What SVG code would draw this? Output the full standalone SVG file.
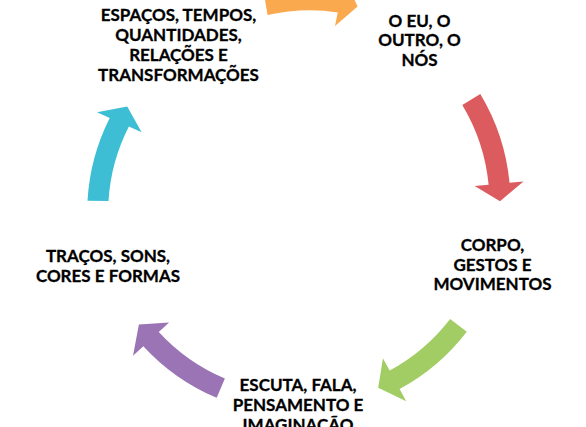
<svg xmlns="http://www.w3.org/2000/svg" width="586" height="427" viewBox="0 0 586 427">
<style>
text{font-family:Lato,"Open Sans","Liberation Sans",sans-serif;font-weight:700;font-size:17px;fill:#000;stroke:#000;stroke-width:0.3;text-anchor:middle}
</style>
<rect width="586" height="427" fill="#fff"/>
<g id="connectors">
<path id="arrow-orange" fill="#FBA94F" d="M 264.09,-5.60 A 213.5 213.5 0 0 1 341.96,-8.17 L 344.76,-21.89 L 357.57,6.54 L 334.99,26.12 L 337.78,12.41 A 192.5 192.5 0 0 0 267.56,15.11 Z"/>
<path id="arrow-red" fill="#DC5B5E" d="M 480.29,94.07 A 211.5 211.5 0 0 1 509.53,182.73 L 523.46,181.39 L 499.99,201.25 L 474.69,186.08 L 488.62,184.74 A 190.5 190.5 0 0 0 462.29,104.89 Z"/>
<path id="arrow-green" fill="#A2CD64" d="M 466.79,331.75 A 211.5 211.5 0 0 1 399.59,389.05 L 406.25,401.36 L 378.18,387.75 L 382.95,358.26 L 389.61,370.57 A 190.5 190.5 0 0 0 450.13,318.97 Z"/>
<path id="arrow-purple" fill="#9B74B5" d="M 216.70,397.83 A 211.5 211.5 0 0 1 143.31,346.16 L 133.01,355.64 L 138.90,324.52 L 169.08,322.47 L 158.77,331.95 A 190.5 190.5 0 0 0 224.87,378.49 Z"/>
<path id="arrow-cyan" fill="#3DBED4" d="M 87.51,200.79 A 209.5 209.5 0 0 1 109.73,117.94 L 96.96,112.20 L 127.20,106.59 L 141.65,132.29 L 128.88,126.55 A 188.5 188.5 0 0 0 108.51,201.01 Z"/>
</g>
<g id="node-espacos">
<text x="178.5" y="21">ESPAÇOS, TEMPOS,</text>
<text x="178.5" y="41">QUANTIDADES,</text>
<text x="178.5" y="61">RELAÇÕES E</text>
<text x="178.5" y="81">TRANSFORMAÇÕES</text>
</g>
<g id="node-eu">
<text x="419.5" y="26.5">O EU, O</text>
<text x="419.5" y="46">OUTRO, O</text>
<text x="419.5" y="65.5">NÓS</text>
</g>
<g id="node-corpo">
<text x="492.5" y="251">CORPO,</text>
<text x="492.5" y="270.5">GESTOS E</text>
<text x="492.5" y="290">MOVIMENTOS</text>
</g>
<g id="node-escuta">
<text x="298" y="390.7">ESCUTA, FALA,</text>
<text x="298" y="410.7">PENSAMENTO E</text>
<text x="298" y="430.7">IMAGINAÇÃO</text>
</g>
<g id="node-tracos">
<text x="108" y="262">TRAÇOS, SONS,</text>
<text x="108" y="282">CORES E FORMAS</text>
</g>
</svg>
